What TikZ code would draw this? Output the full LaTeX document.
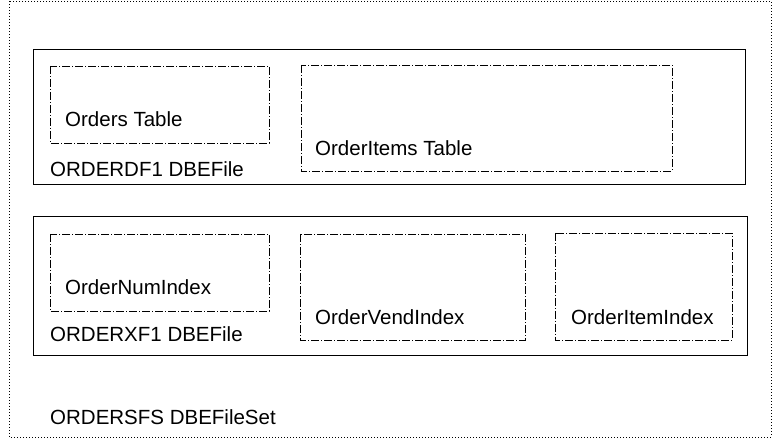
\documentclass[tikz,border=0pt]{standalone}
\usepackage{fontspec}
\setmainfont{Liberation Sans}
\begin{document}
\begin{tikzpicture}[x=1pt,y=-1pt,
  outerbox/.style={draw=black, line width=0.8pt, dash pattern=on 1pt off 2pt},
  filebox/.style={draw=black, line width=1pt},
  objbox/.style={draw=black, line width=0.8pt, dash pattern=on 8pt off 2pt on 1pt off 2pt},
  lbl/.style={anchor=base west, inner sep=0pt, font=\fontsize{20.5}{21}\selectfont}]
\useasboundingbox (0,0) rectangle (780,438);
\fill[white] (0,0) rectangle (780,438);
% outer file set
\draw[outerbox] (9,1) rectangle (771,437);
% ORDERDF1
\draw[filebox] (33,50) rectangle (745,185);
\draw[objbox] (50,66) rectangle (269,143);
\draw[objbox] (301,65) rectangle (672,171);
\node[lbl] (ordtab) at (65,127) {Orders Table};
\node[lbl] (itemtab) at (315,156) {OrderItems Table};
\node[lbl] (df1) at (50,177) {ORDERDF1 DBEFile};
% ORDERXF1
\draw[filebox] (33,217) rectangle (747,356);
\draw[objbox] (50,234) rectangle (269,311);
\draw[objbox] (300,234) rectangle (525,340);
\draw[objbox] (555,233) rectangle (732,340);
\node[lbl] (numidx) at (65,295) {OrderNumIndex};
\node[lbl] (vendidx) at (315,325) {OrderVendIndex};
\node[lbl] (itemidx) at (571,325) {OrderItemIndex};
\node[lbl] (xf1) at (50,342) {ORDERXF1 DBEFile};
% file set label
\node[lbl] (sfs) at (50,425) {ORDERSFS DBEFileSet};
\end{tikzpicture}
\end{document}
